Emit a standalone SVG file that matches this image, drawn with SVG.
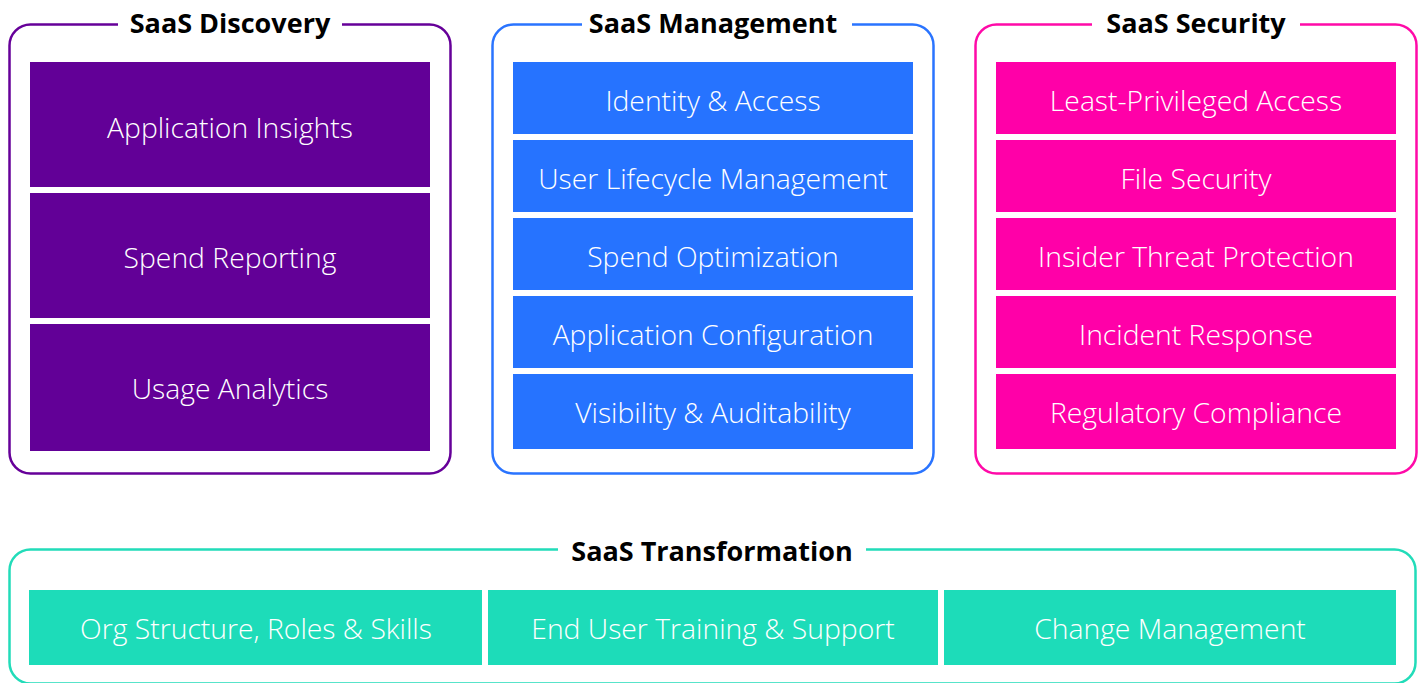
<svg xmlns="http://www.w3.org/2000/svg" width="1425" height="683" viewBox="0 0 1425 683">
<style>
.frame{fill:none;stroke-width:2.5}
.title{font-family:"Open Sans",Lato,sans-serif;font-weight:700;font-size:27px;fill:#000;text-anchor:middle}
.lbl{font-family:"Open Sans",Lato,sans-serif;font-weight:300;font-size:28.3px;fill:#fff;text-anchor:middle}
.gap{fill:#fff}
</style>
<rect width="1425" height="683" fill="#fff"/>
<g id="discovery">
<rect class="frame" x="9.5" y="24.5" width="441" height="449" rx="21" stroke="#660099"/>
<rect class="gap" x="118" y="18" width="224" height="14"/>
<text class="title" x="230" y="33">SaaS Discovery</text>
<g fill="#620097">
<rect x="30" y="62" width="400" height="125"/>
<rect x="30" y="193" width="400" height="125"/>
<rect x="30" y="324" width="400" height="127"/>
</g>
<text class="lbl" x="230" y="138">Application Insights</text>
<text class="lbl" x="230" y="268">Spend Reporting</text>
<text class="lbl" x="230" y="399">Usage Analytics</text>
</g>
<g id="management">
<rect class="frame" x="492.5" y="24.5" width="441" height="449" rx="21" stroke="#2a74ff"/>
<rect class="gap" x="582" y="18" width="270" height="14"/>
<text class="title" x="713" y="33">SaaS Management</text>
<g fill="#2673ff">
<rect x="513" y="62" width="400" height="72"/>
<rect x="513" y="140" width="400" height="72"/>
<rect x="513" y="218" width="400" height="72"/>
<rect x="513" y="296" width="400" height="72"/>
<rect x="513" y="374" width="400" height="75"/>
</g>
<text class="lbl" x="713" y="111">Identity &amp; Access</text>
<text class="lbl" x="713" y="189">User Lifecycle Management</text>
<text class="lbl" x="713" y="267">Spend Optimization</text>
<text class="lbl" x="713" y="345">Application Configuration</text>
<text class="lbl" x="713" y="423">Visibility &amp; Auditability</text>
</g>
<g id="security">
<rect class="frame" x="975.5" y="24.5" width="441" height="449" rx="21" stroke="#ff0aa8"/>
<rect class="gap" x="1092" y="18" width="208" height="14"/>
<text class="title" x="1196" y="33">SaaS Security</text>
<g fill="#ff00a8">
<rect x="996" y="62" width="400" height="72"/>
<rect x="996" y="140" width="400" height="72"/>
<rect x="996" y="218" width="400" height="72"/>
<rect x="996" y="296" width="400" height="72"/>
<rect x="996" y="374" width="400" height="75"/>
</g>
<text class="lbl" x="1196" y="111">Least-Privileged Access</text>
<text class="lbl" x="1196" y="189">File Security</text>
<text class="lbl" x="1196" y="267">Insider Threat Protection</text>
<text class="lbl" x="1196" y="345">Incident Response</text>
<text class="lbl" x="1196" y="423">Regulatory Compliance</text>
</g>
<g id="transformation">
<rect class="frame" x="9.5" y="549.5" width="1406" height="134" rx="21" stroke="#22dcb9"/>
<rect class="gap" x="558" y="543" width="308" height="14"/>
<text class="title" x="712" y="561">SaaS Transformation</text>
<g fill="#1ddcb9">
<rect x="29" y="590" width="453" height="75"/>
<rect x="488" y="590" width="450" height="75"/>
<rect x="944" y="590" width="452" height="75"/>
</g>
<text class="lbl" x="256" y="639">Org Structure, Roles &amp; Skills</text>
<text class="lbl" x="713" y="639">End User Training &amp; Support</text>
<text class="lbl" x="1170" y="639">Change Management</text>
</g>
<g id="connectors"/>
</svg>
